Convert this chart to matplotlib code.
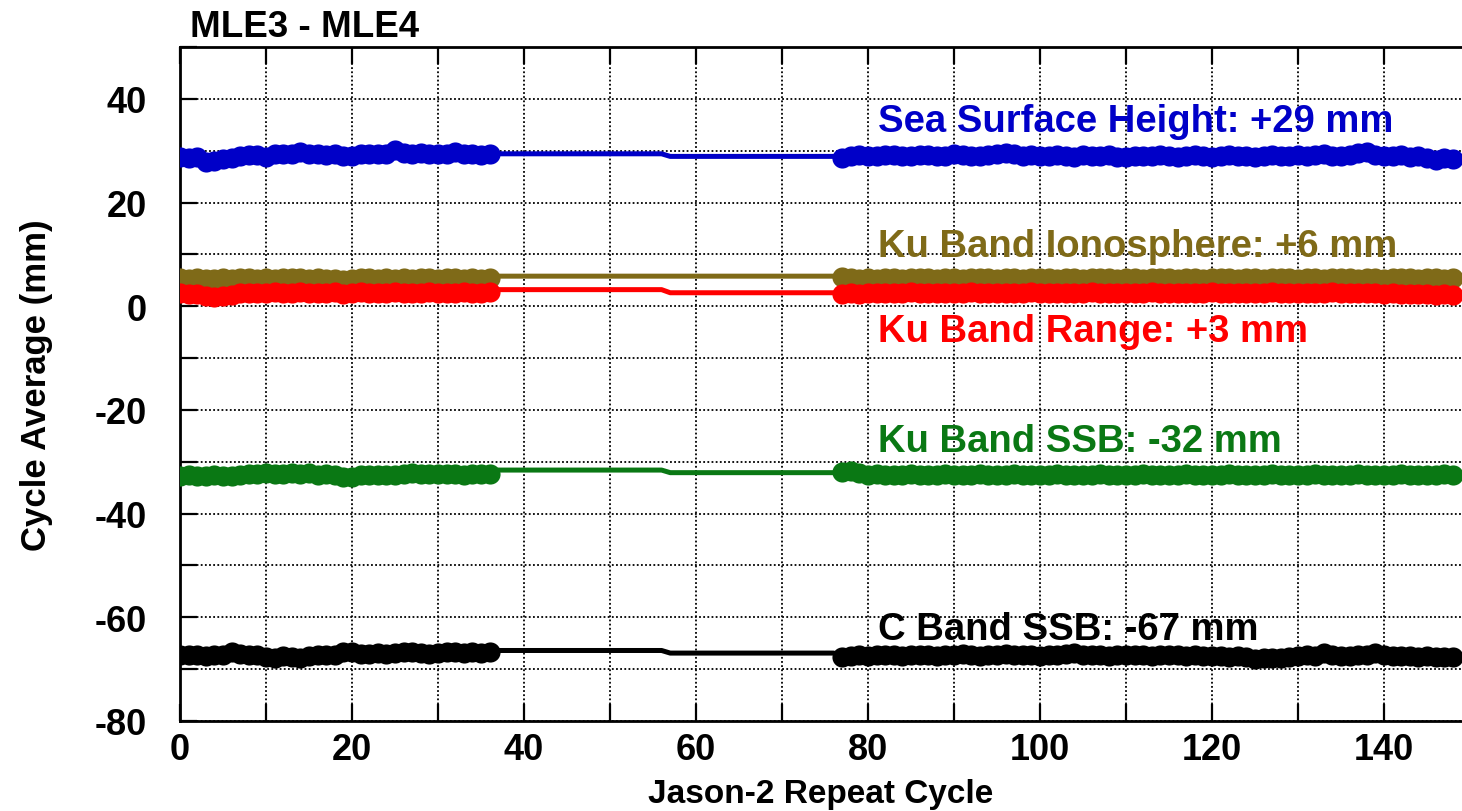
import numpy as np
import matplotlib.pyplot as plt
from matplotlib.ticker import MultipleLocator

plt.rcParams['font.family'] = ['Liberation Sans', 'DejaVu Sans']
plt.rcParams['font.weight'] = 'bold'
plt.rcParams['axes.unicode_minus'] = False

# repeat cycles with data, and the cycles bridging the gap
cycles_a = list(range(0, 37))
cycles_b = list(range(77, 149))
gap_cycles = [37, 56, 57, 76]

ssh_a = [28.7, 28.6, 28.7, 27.9, 28.0, 28.4, 28.5, 29.0, 29.1, 29.1, 28.7, 29.3, 29.4,
         29.4, 29.7, 29.3, 29.3, 29.2, 29.3, 28.9, 28.9, 29.3, 29.3, 29.3, 29.4, 30.2,
         29.5, 29.4, 29.5, 29.3, 29.4, 29.4, 29.7, 29.3, 29.3, 29.2, 29.3]
ssh_b = [28.6, 28.9, 29.2, 28.9, 29.0, 29.1, 29.1, 29.0, 28.9, 29.2, 29.1, 28.9, 29.0,
         29.3, 29.1, 29.0, 28.9, 29.2, 29.4, 29.6, 29.3, 29.0, 29.1, 28.9, 29.0, 29.2,
         29.0, 28.8, 29.1, 29.0, 28.9, 29.1, 28.8, 28.7, 28.9, 29.0, 28.9, 29.2, 29.0,
         28.8, 28.9, 29.1, 29.0, 28.8, 28.9, 29.1, 29.0, 28.9, 28.8, 29.0, 29.1, 28.9,
         29.0, 29.2, 29.0, 29.1, 29.4, 29.0, 28.9, 29.2, 29.6, 29.7, 29.1, 28.9, 29.0,
         29.1, 28.8, 28.9, 28.6, 28.3, 28.5, 28.4]
ssh_gap = [29.4, 29.4, 28.9, 28.9]

iono_a = [5.4, 5.3, 5.4, 5.2, 5.3, 5.4, 5.3, 5.5, 5.4, 5.3, 5.4, 5.3, 5.4, 5.5, 5.4, 5.3,
          5.4, 5.3, 5.2, 5.0, 5.3, 5.4, 5.5, 5.3, 5.4, 5.3, 5.4, 5.3, 5.5, 5.4, 5.3, 5.4,
          5.4, 5.3, 5.4, 5.3, 5.4]
iono_b = [5.6, 5.5, 5.3, 5.4, 5.3, 5.4, 5.4, 5.3, 5.4, 5.5, 5.4, 5.3, 5.4, 5.4, 5.3, 5.4,
          5.5, 5.4, 5.3, 5.4, 5.4, 5.3, 5.4, 5.5, 5.4, 5.3, 5.4, 5.4, 5.3, 5.4, 5.5, 5.4,
          5.3, 5.4, 5.4, 5.3, 5.4, 5.5, 5.4, 5.3, 5.4, 5.4, 5.3, 5.4, 5.5, 5.4, 5.3, 5.4,
          5.4, 5.3, 5.4, 5.5, 5.4, 5.3, 5.4, 5.4, 5.3, 5.4, 5.5, 5.4, 5.3, 5.4, 5.4, 5.3,
          5.4, 5.5, 5.4, 5.3, 5.4, 5.4, 5.3, 5.4]
iono_gap = [5.8, 5.8, 5.8, 5.8]

range_a = [2.5, 2.4, 2.3, 1.9, 1.8, 1.9, 2.1, 2.5, 2.6, 2.5, 2.6, 2.7, 2.6, 2.5, 2.7,
           2.6, 2.5, 2.6, 2.7, 2.4, 2.6, 2.7, 2.6, 2.5, 2.6, 2.7, 2.6, 2.5, 2.6, 2.7,
           2.6, 2.5, 2.6, 2.7, 2.6, 2.6, 2.7]
range_b = [2.3, 2.6, 2.4, 2.6, 2.5, 2.6, 2.5, 2.6, 2.7, 2.5, 2.6, 2.5, 2.6, 2.5, 2.6,
           2.7, 2.5, 2.6, 2.5, 2.6, 2.5, 2.6, 2.7, 2.5, 2.6, 2.5, 2.6, 2.5, 2.6, 2.7,
           2.5, 2.6, 2.5, 2.6, 2.5, 2.6, 2.7, 2.5, 2.6, 2.5, 2.6, 2.5, 2.6, 2.7, 2.5,
           2.6, 2.5, 2.6, 2.5, 2.6, 2.7, 2.5, 2.6, 2.5, 2.6, 2.5, 2.6, 2.7, 2.5, 2.6,
           2.5, 2.6, 2.5, 2.4, 2.5, 2.4, 2.3, 2.4, 2.3, 2.2, 2.3, 2.2]
range_gap = [3.2, 3.2, 2.6, 2.6]

kussb_a = [-32.7, -32.6, -32.7, -32.7, -32.6, -32.7, -32.8, -32.6, -32.3, -32.4, -32.2,
           -32.3, -32.4, -32.2, -32.3, -32.2, -32.5, -32.4, -32.5, -33.0, -32.9, -32.6,
           -32.5, -32.6, -32.5, -32.6, -32.3, -32.2, -32.3, -32.4, -32.4, -32.3, -32.4,
           -32.5, -32.4, -32.3, -32.4]
kussb_b = [-32.0, -31.8, -32.1, -32.5, -32.4, -32.5, -32.6, -32.5, -32.3, -32.5, -32.6,
           -32.5, -32.4, -32.5, -32.6, -32.5, -32.3, -32.5, -32.6, -32.5, -32.4, -32.5,
           -32.6, -32.5, -32.5, -32.3, -32.5, -32.6, -32.5, -32.5, -32.4, -32.5, -32.6,
           -32.5, -32.5, -32.4, -32.5, -32.6, -32.5, -32.5, -32.4, -32.5, -32.6, -32.5,
           -32.5, -32.4, -32.5, -32.6, -32.5, -32.5, -32.4, -32.5, -32.6, -32.5, -32.5,
           -32.4, -32.5, -32.6, -32.5, -32.5, -32.4, -32.5, -32.6, -32.5, -32.5, -32.4,
           -32.5, -32.6, -32.5, -32.5, -32.4, -32.5]
kussb_gap = [-31.6, -31.6, -32.1, -32.1]

cssb_a = [-67.3, -67.2, -67.3, -67.4, -67.3, -67.2, -66.7, -67.1, -67.2, -67.3, -67.6,
          -67.8, -67.5, -67.7, -67.8, -67.4, -67.2, -67.3, -67.2, -66.7, -66.6, -67.0,
          -67.1, -66.8, -67.1, -66.8, -66.7, -66.7, -66.8, -67.0, -66.8, -66.7, -66.7,
          -66.8, -66.7, -66.8, -66.7]
cssb_b = [-67.6, -67.5, -67.3, -67.4, -67.3, -67.2, -67.3, -67.4, -67.3, -67.2, -67.3,
          -67.4, -67.2, -67.3, -67.1, -67.3, -67.4, -67.2, -67.3, -67.1, -67.2, -67.3,
          -67.2, -67.4, -67.3, -67.2, -67.1, -66.8, -67.2, -67.3, -67.2, -67.5, -67.3,
          -67.2, -67.3, -67.2, -67.4, -67.3, -67.2, -67.3, -67.4, -67.3, -67.5, -67.4,
          -67.5, -67.6, -67.5, -67.7, -68.1, -67.9, -67.8, -67.9, -67.6, -67.5, -67.3,
          -67.4, -66.8, -67.3, -67.4, -67.5, -67.3, -67.2, -66.9, -67.3, -67.4, -67.5,
          -67.4, -67.6, -67.5, -67.7, -67.6, -67.7]
cssb_gap = [-66.4, -66.4, -66.9, -66.9]

series = [
    (ssh_a, ssh_b, ssh_gap, '#0000c8', 'Sea Surface Height: +29 mm', 33.8),
    (iono_a, iono_b, iono_gap, '#7f6a18', 'Ku Band Ionosphere: +6 mm', 9.7),
    (range_a, range_b, range_gap, '#ff0000', 'Ku Band Range: +3 mm', -6.8),
    (kussb_a, kussb_b, kussb_gap, '#0a7814', 'Ku Band SSB: -32 mm', -28.0),
    (cssb_a, cssb_b, cssb_gap, '#000000', 'C Band SSB: -67 mm', -64.2),
]

fig = plt.figure(figsize=(14.62, 8.12), dpi=100)
ax = fig.add_axes([180 / 1462, 1 - 722 / 812, 1 - 180 / 1462, (722 - 48) / 812])

for vals_a, vals_b, vals_gap, color, label, label_y in series:
    x_all = cycles_a + gap_cycles + cycles_b
    y_all = vals_a + vals_gap + vals_b
    ax.plot(x_all, y_all, color=color, lw=3.6, solid_capstyle='butt', zorder=3)
    ax.plot(cycles_a, vals_a, 'o', color=color, ms=14.5, mew=0, zorder=3)
    ax.plot(cycles_b, vals_b, 'o', color=color, ms=14.5, mew=0, zorder=3)
    ax.text(81.2, label_y, label, color=color, fontsize=27.5, fontweight='bold',
            va='baseline', ha='left', zorder=4)

ax.set_xlim(0, 149.07)
ax.set_ylim(-80, 50)
ax.xaxis.set_major_locator(MultipleLocator(20))
ax.xaxis.set_minor_locator(MultipleLocator(10))
ax.set_yticks([-80, -60, -40, -20, 0, 20, 40])
ax.yaxis.set_minor_locator(MultipleLocator(10))

ax.grid(True, which='both', color='black', linestyle=(0, (1, 1.3)), linewidth=1.3)
ax.set_axisbelow(True)
ax.tick_params(which='both', direction='in', length=12, width=1.6,
               top=True, right=False, labelsize=26)
ax.tick_params(axis='x', pad=8)
ax.tick_params(axis='y', pad=24)
for lab in ax.get_xticklabels() + ax.get_yticklabels():
    lab.set_fontweight('bold')
for side in ['left', 'bottom', 'top']:
    ax.spines[side].set_linewidth(2)
ax.spines['right'].set_visible(False)

ax.set_xlabel('Jason-2 Repeat Cycle', fontsize=24, fontweight='bold', labelpad=8)
ax.set_ylabel('Cycle Average (mm)', fontsize=25, fontweight='bold', labelpad=30)
fig.text(190 / 1462, 1 - 37 / 812, 'MLE3 - MLE4', fontsize=26.5, fontweight='bold',
         va='baseline', ha='left')

plt.savefig('out.png', dpi=100)
